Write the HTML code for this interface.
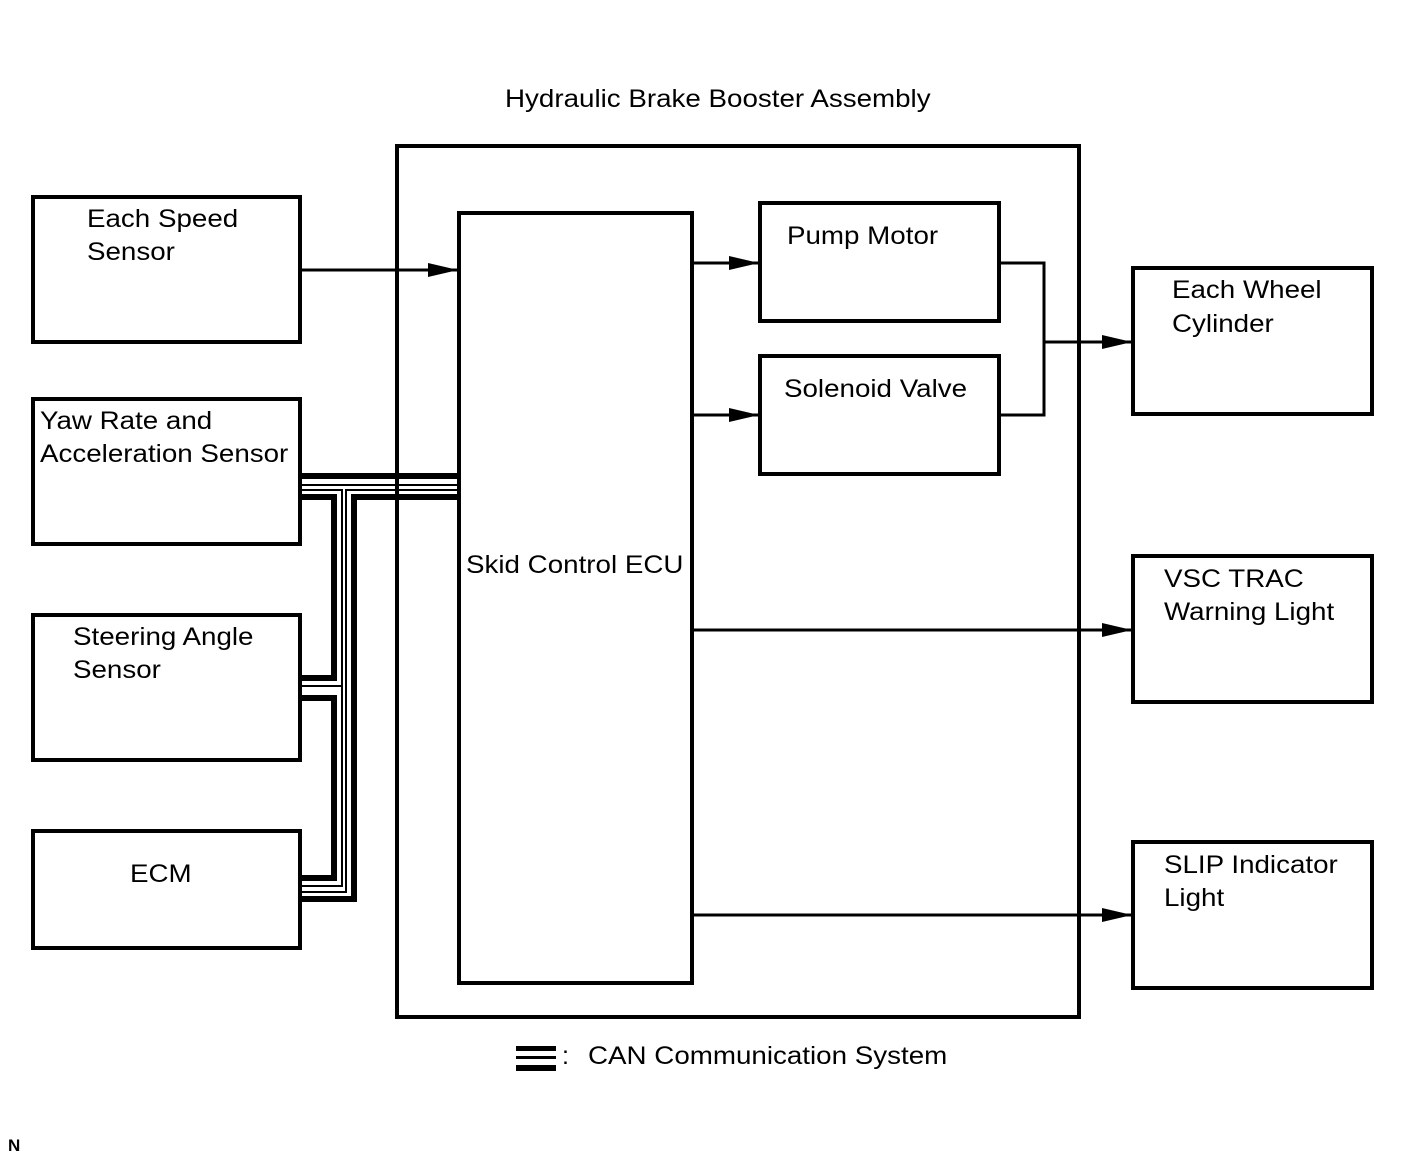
<!DOCTYPE html>
<html><head><style>body{margin:0;background:#fff}svg{display:block}text{font-family:"Liberation Sans",Arial,sans-serif;font-size:25px;fill:#000}</style></head>
<body>
<svg width="1424" height="1160" viewBox="0 0 1424 1160">
<defs><marker id="a" markerWidth="30" markerHeight="14" refX="30" refY="7" orient="auto" markerUnits="userSpaceOnUse"><path d="M0,0 L30,7 L0,14 Z" fill="#000"/></marker></defs>
<g fill="none" stroke="#000" stroke-width="4">
<rect x="33" y="197" width="267" height="145"/>
<rect x="33" y="399" width="267" height="145"/>
<rect x="33" y="615" width="267" height="145"/>
<rect x="33" y="831" width="267" height="117"/>
<rect x="397" y="146" width="682" height="871"/>
<rect x="459" y="213" width="233" height="770"/>
<rect x="760" y="203" width="239" height="118"/>
<rect x="760" y="356" width="239" height="118"/>
<rect x="1133" y="268" width="239" height="146"/>
<rect x="1133" y="556" width="239" height="146"/>
<rect x="1133" y="842" width="239" height="146"/>
</g>
<g fill="none" stroke="#000" stroke-width="3">
<line x1="300" y1="270" x2="458" y2="270" marker-end="url(#a)"/>
<line x1="692" y1="263" x2="759" y2="263" marker-end="url(#a)"/>
<line x1="692" y1="415" x2="759" y2="415" marker-end="url(#a)"/>
<polyline points="999,263 1044,263 1044,415 999,415"/>
<line x1="1044" y1="342" x2="1132" y2="342" marker-end="url(#a)"/>
<line x1="692" y1="630" x2="1132" y2="630" marker-end="url(#a)"/>
<line x1="692" y1="915" x2="1132" y2="915" marker-end="url(#a)"/>
</g>
<g fill="none" stroke="#000" stroke-linejoin="miter">
<g stroke-width="6">
<line x1="300" y1="476" x2="458" y2="476"/>
<polyline points="300,497 334,497 334,678 300,678"/>
<polyline points="300,698 334,698 334,878 300,878"/>
<polyline points="458,497 354,497 354,899 300,899"/>
</g>
<g stroke-width="2">
<line x1="300" y1="485" x2="458" y2="485"/>
<polyline points="300,490 342,490 342,686 300,686"/>
<polyline points="342,686 342,886 300,886"/>
<polyline points="458,490 346,490 346,892 300,892"/>
</g>
<rect x="516" y="1046" width="40" height="5" fill="#000" stroke="none"/>
<rect x="516" y="1056" width="40" height="3" fill="#000" stroke="none"/>
<rect x="516" y="1065" width="40" height="6" fill="#000" stroke="none"/>
</g>
<g transform="translate(505,107) scale(1.11,1)"><text>Hydraulic Brake Booster Assembly</text></g>
<g transform="translate(87,227) scale(1.11,1)"><text>Each Speed</text><text y="33">Sensor</text></g>
<g transform="translate(40,429) scale(1.11,1)"><text>Yaw Rate and</text><text y="33">Acceleration Sensor</text></g>
<g transform="translate(73,645) scale(1.11,1)"><text>Steering Angle</text><text y="33">Sensor</text></g>
<g transform="translate(130,882) scale(1.11,1)"><text>ECM</text></g>
<g transform="translate(466,573) scale(1.11,1)"><text>Skid Control ECU</text></g>
<g transform="translate(787,244) scale(1.11,1)"><text>Pump Motor</text></g>
<g transform="translate(784,397) scale(1.11,1)"><text>Solenoid Valve</text></g>
<g transform="translate(1172,298) scale(1.11,1)"><text>Each Wheel</text><text y="34">Cylinder</text></g>
<g transform="translate(1164,587) scale(1.11,1)"><text>VSC TRAC</text><text y="33">Warning Light</text></g>
<g transform="translate(1164,873) scale(1.11,1)"><text>SLIP Indicator</text><text y="33">Light</text></g>
<text x="562" y="1064">:</text>
<g transform="translate(588,1064) scale(1.11,1)"><text>CAN Communication System</text></g>
<text x="8" y="1151" style="font-size:17px;font-weight:bold">N</text>
</svg>
</body></html>
